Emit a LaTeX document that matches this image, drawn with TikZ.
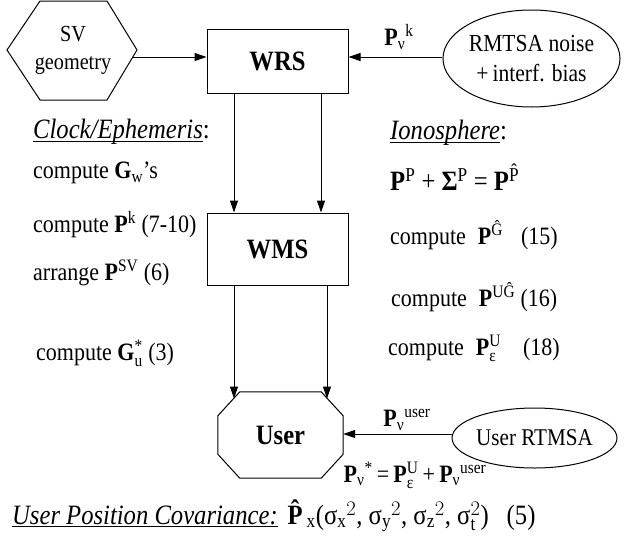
\documentclass[tikz,border=0pt]{standalone}
\usepackage{amsmath}
\usepackage{fontspec}
\setmainfont{Liberation Serif}[FakeStretch=0.88]
\usetikzlibrary{arrows.meta,shapes.geometric}
\newcommand{\myuline}[1]{{\setbox0\hbox{#1}\rlap{\rule[-3pt]{\wd0}{1pt}}\box0}}
\newcommand{\Pb}{\textbf{P}}
\newcommand{\tx}[1]{\text{#1}}
\tikzset{
  txt/.style={font=\fontsize{25}{28}\selectfont, inner sep=0pt},
  head/.style={font=\fontsize{28}{30}\selectfont, inner sep=0pt},
  bigb/.style={font=\bfseries\fontsize{28}{30}\selectfont},
  arr/.style={-{Triangle[length=12pt,width=8pt]}, line width=1pt},
  box/.style={draw, line width=1pt, inner sep=0pt},
}
\begin{document}
\begin{tikzpicture}[x=1pt,y=-1pt]
\useasboundingbox (0,0) rectangle (626,541);

% SV geometry hexagon
\draw[line width=1pt] (7,50) -- (40,1) -- (107,1) -- (137,50) -- (107,100) -- (40,100) -- cycle;
\node[align=center, inner sep=0pt, font=\fontsize{23}{28}\selectfont] (sv) at (73,50) {SV\\geometry};
\coordinate (svout) at (133,57);

% WRS
\node[box, bigb, minimum width=141pt, minimum height=64pt] (wrs) at (277.5,61) {WRS};
\draw[arr] (svout) -- (svout -| wrs.west);

% RMTSA ellipse
\node[box, ellipse, minimum width=163pt, minimum height=97pt, align=center,
      font=\fontsize{24.5}{30}\selectfont] (rm) at (531.5,58.5) {RMTSA noise\\+\,interf. bias};
\draw[arr] ([yshift=1.5pt]rm.west) -- ([yshift=1.5pt]rm.west -| wrs.east);
\node[txt] (pk) at (399,37) {\Pb$_{\tx{ν}}{}^{\tx{k}}$};

% WMS
\node[box, bigb, minimum width=141pt, minimum height=72pt] (wms) at (277.5,249) {WMS};
\draw[arr] ([xshift=-43.5pt]wrs.south) -- ([xshift=-43.5pt]wms.north);
\draw[arr] ([xshift=43.5pt]wrs.south) -- ([xshift=43.5pt]wms.north);

% User octagon
\node[inner sep=0pt, minimum width=125pt, minimum height=86pt, bigb] (user) at (280.5,435) {User};
\draw[line width=1pt] ([xshift=22pt]user.north west) -- ([xshift=-22pt]user.north east)
  -- ([yshift=-24pt]user.north east) -- ([yshift=24pt]user.south east)
  -- ([xshift=-22pt]user.south east) -- ([xshift=22pt]user.south west)
  -- ([yshift=24pt]user.south west) -- ([yshift=-24pt]user.north west) -- cycle;
\coordinate (ul) at (234,398.5);
\coordinate (ur) at (327,398.5);
\draw[arr] ([xshift=-43.5pt]wms.south) -- (ul);
\draw[arr] ([xshift=49.5pt]wms.south) -- (ur);

% User RTMSA
\node[box, ellipse, minimum width=157pt, minimum height=60pt,
      font=\fontsize{24}{28}\selectfont] (rt) at (534.5,438) {User RTMSA};
\draw[arr] ([yshift=4pt]rt.west) -- ([yshift=4pt]rt.west -| user.east);
\node[txt] (puser) at (407,420) {\Pb$_{\tx{ν}}{}^{\tx{user}}$};
\node[txt] (peq) at (415,475) {\Pb$_{\tx{ν}}{}^{\tx{*}}$\,=\,\Pb$_{\tx{ε}}^{\tx{U}}$\,+\,\Pb$_{\tx{ν}}{}^{\tx{user}}$};

% Left column
\node[head, anchor=west] (clk) at (33,132) {\myuline{\textit{Clock/Ephemeris}}:};
\node[txt, anchor=west] (l1) at (33,173) {compute \textbf{G}$_{\tx{w}}$’s};
\node[txt, anchor=west] (l2) at (33,225) {compute \Pb$^{\tx{k}}$ (7-10)};
\node[txt, anchor=west] (l3) at (33,273) {arrange \Pb$^{\tx{SV}}$ (6)};
\node[txt, anchor=west] (l4) at (36,353) {compute \textbf{G}$_{\tx{u}}^{\tx{*}}$ (3)};

% Right column
\node[head, anchor=west] (ion) at (390,133) {\myuline{\textit{Ionosphere}}:};
\node[head, anchor=west] (r1) at (390,177) {\Pb$^{\tx{P}}$ + \textbf{Σ}$^{\tx{P}}$ = \Pb$^{\tx{\^{P}}}$};
\node[txt, anchor=west] (r2) at (390,235) {compute\hspace{12pt}\Pb$^{\tx{Ĝ}}$\hspace{18pt}(15)};
\node[txt, anchor=west] (r3) at (391,297) {compute\hspace{12pt}\Pb$^{\tx{UĜ}}$ (16)};
\node[txt, anchor=west] (r4) at (388,348) {compute\hspace{12pt}\Pb$_{\tx{ε}}^{\tx{U}}$\hspace{22pt}(18)};

% Bottom line
\node[head, anchor=west] (cov) at (12,516) {\myuline{\textit{User Position Covariance:}}\hspace{10pt}\textbf{\^{P}}$_{\tx{x}}$(σ$_{\tx{x}}{}^{2}$, σ$_{\tx{y}}{}^{2}$, σ$_{\tx{z}}{}^{2}$, σ$_{\tx{t}}^{2}$)\hspace{18pt}(5)};
\end{tikzpicture}
\end{document}
